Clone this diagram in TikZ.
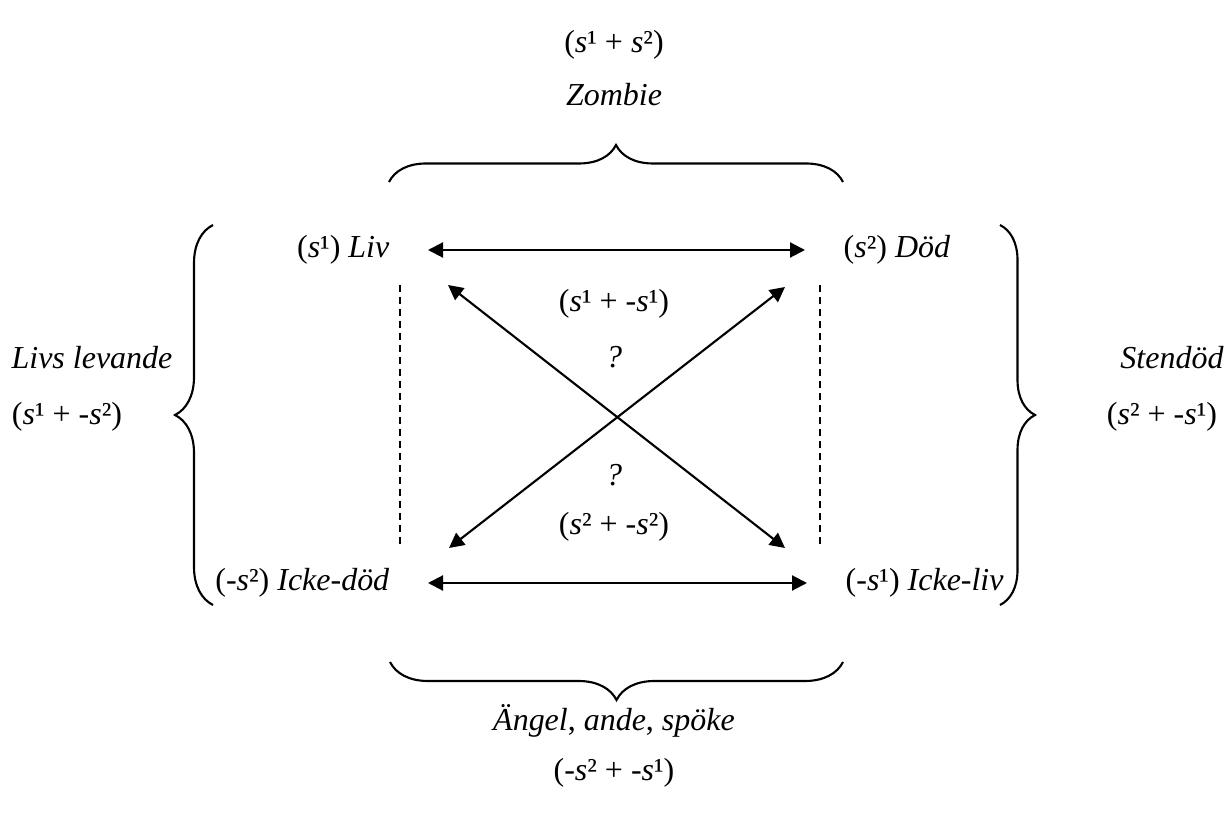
\documentclass[tikz,border=0pt]{standalone}
\usepackage{fontspec}
\setmainfont{Liberation Serif}
\usepackage{tikz}
\usetikzlibrary{arrows.meta, decorations.pathreplacing}
\newcommand{\spow}[1]{\textit{s}#1}
\tikzset{
    lbl/.style={
        font=\fontsize{9.1pt}{11pt}\selectfont,
        inner sep=0pt,
        align=center
    },
    arrow/.style={
        {Triangle[length=0.15cm, width=0.15cm]}-{Triangle[length=0.15cm, width=0.15cm]},
        line width=0.6pt,
        black
    },
    dashline/.style={
        line width=0.5pt,
        dash pattern=on 0.07cm off 0.05cm
    },
    bracket/.style={
        decorate,
        decoration={brace, amplitude=#1},
        line width=0.6pt
    },
    bracket/.default=0.37cm
}

\begin{document}
\begin{tikzpicture}
                \useasboundingbox (0,0) rectangle (12.27,8.14);
                % Top
                \node[lbl] (topf) at (6.14,7.69) {(\spow{¹} + \spow{²})};
                \node[lbl] (zombie) at (6.14,7.19) {\textit{Zombie}};
                \coordinate (tb1) at (3.89,6.32);
                \coordinate (tb2) at (8.43,6.32);
                \draw[bracket=0.37cm] (tb1) -- (tb2);

                % Corners
                \node[lbl, anchor=east] (liv) at (3.90,5.64) {(\spow{¹}) \textit{Liv}};
                \node[lbl, anchor=west] (dod) at (8.43,5.64) {(\spow{²}) \textit{Död}};
                \node[lbl, anchor=east] (ickedod) at (3.90,2.31) {(-\spow{²}) \textit{Icke-död}};
                \node[lbl, anchor=west] (ickeliv) at (8.45,2.31) {(-\spow{¹}) \textit{Icke-liv}};

                \draw[arrow, shorten <=0.38cm, shorten >=0.38cm] (liv) -- (dod);
                \draw[arrow, shorten <=0.38cm, shorten >=0.38cm] (ickedod) -- (ickeliv);

                % Diagonals
                \coordinate (nw) at (4.48,5.29);
                \coordinate (se) at (7.85,2.66);
                \coordinate (ne) at (7.85,5.27);
                \coordinate (sw) at (4.49,2.66);
                \draw[arrow] (nw) -- (se);
                \draw[arrow] (ne) -- (sw);

                % Dashed sides
                \coordinate (dl1) at (4.00,5.29);
                \coordinate (dl2) at (4.00,2.69);
                \coordinate (dr1) at (8.20,5.29);
                \coordinate (dr2) at (8.20,2.69);
                \draw[dashline] (dl1) -- (dl2);
                \draw[dashline] (dr1) -- (dr2);

                % Centre
                \node[lbl] (midtop) at (6.14,5.10) {(\spow{¹} + -\spow{¹})};
                \node[lbl] (q1) at (6.14,4.57) {\textit{?}};
                \node[lbl] (q2) at (6.14,3.39) {\textit{?}};
                \node[lbl] (midbot) at (6.14,2.87) {(\spow{²} + -\spow{²})};

                % Left
                \coordinate (lb1) at (2.13,2.09);
                \coordinate (lb2) at (2.13,5.89);
                \draw[bracket=0.38cm] (lb1) -- (lb2);
                \node[lbl] (livs) at (0.92,4.56) {\textit{Livs levande}};
                \node[lbl] (leftf) at (0.67,3.97) {(\spow{¹} + -\spow{²})};

                % Right
                \coordinate (rb1) at (10.00,5.89);
                \coordinate (rb2) at (10.00,2.09);
                \draw[bracket=0.35cm] (rb1) -- (rb2);
                \node[lbl] (stendod) at (11.72,4.56) {\textit{Stendöd}};
                \node[lbl] (rightf) at (11.62,3.97) {(\spow{²} + -\spow{¹})};

                % Bottom
                \coordinate (bb1) at (8.43,1.52);
                \coordinate (bb2) at (3.90,1.52);
                \draw[bracket=0.38cm] (bb1) -- (bb2);
                \node[lbl] (angel) at (6.14,0.93) {\textit{Ängel}, \textit{ande}, \textit{spöke}};
                \node[lbl] (botf) at (6.14,0.41) {(-\spow{²} + -\spow{¹})};
            \end{tikzpicture}
\end{document}
